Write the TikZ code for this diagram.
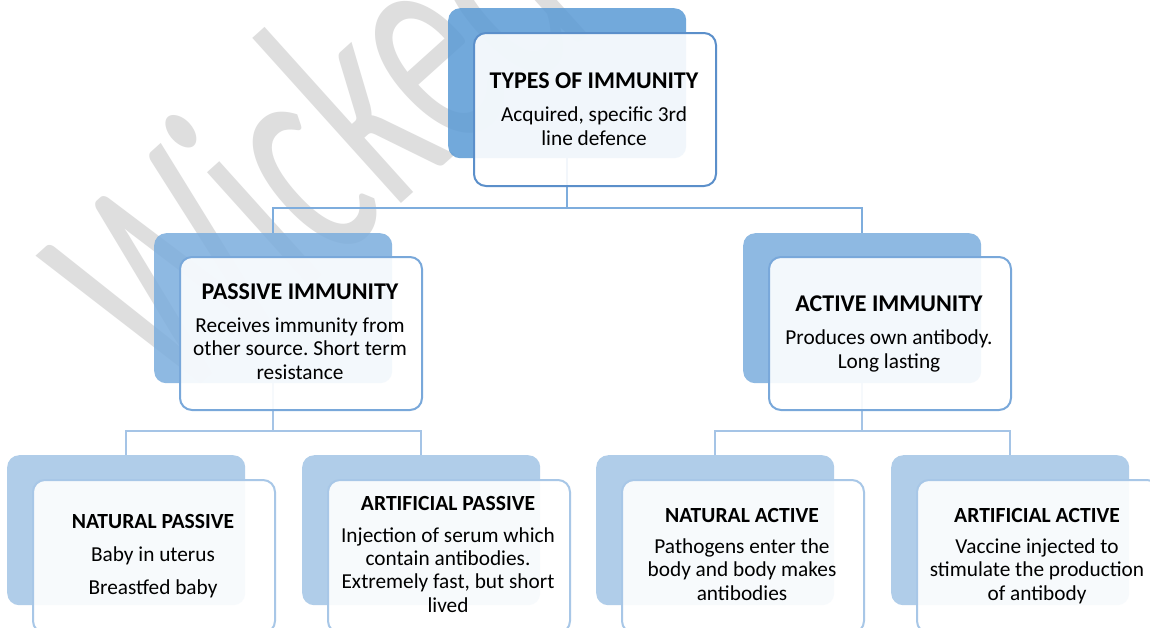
\documentclass[tikz,border=0pt]{standalone}
\usepackage{fontspec}
\setmainfont{Carlito}
\frenchspacing
\definecolor{backA}{HTML}{5A9AD5}
\definecolor{backB}{HTML}{7BADDD}
\definecolor{backC}{HTML}{A3C5E6}
\definecolor{edgeA}{HTML}{5B8FCA}
\definecolor{edgeB}{HTML}{79A8DA}
\definecolor{edgeC}{HTML}{A8C7E7}
\definecolor{connA}{HTML}{7EADDD}
\definecolor{connB}{HTML}{A5C4E6}
\definecolor{wmgray}{HTML}{DEDEDE}
\begin{document}
\begin{tikzpicture}[x=1pt,y=-1pt,
  backbox/.style={rectangle, rounded corners=12pt, minimum width=238pt, minimum height=150pt, anchor=north west, inner sep=0pt, fill opacity=0.85},
  frontbox/.style={rectangle, rounded corners=12pt, minimum width=242pt, minimum height=153pt, anchor=north west, inner sep=0pt, fill=white, fill opacity=0.9, line width=2pt},
  ttl/.style={anchor=base, inner sep=0pt, font=\bfseries\fontsize{24}{26}\selectfont},
  ttls/.style={anchor=base, inner sep=0pt, font=\bfseries\fontsize{21.6}{24}\selectfont},
  body/.style={anchor=base, inner sep=0pt, align=center, font=\fontsize{21.3}{23.3}\selectfont},
  wmark/.style={rotate=42, anchor=base west, inner sep=0pt, text=wmgray, font=\fontsize{320}{320}\selectfont},
  connlineA/.style={draw=connA, line width=2pt},
  connlineB/.style={draw=connB, line width=2pt}
]
\useasboundingbox (0,0) rectangle (1150,627);
\clip (0,0) rectangle (1150,627);
\fill[white] (0,0) rectangle (1150,627);

% watermark
\node[wmark] (wm) at (172,410) {\scalebox{0.6}[1]{Wicked}};

% back boxes
\node[backbox, fill=backA] (b1) at (448,8) {};
\node[backbox, fill=backB] (b2) at (154,233) {};
\node[backbox, fill=backB] (b3) at (743,233) {};
\node[backbox, fill=backC] (b4) at (7,455) {};
\node[backbox, fill=backC] (b5) at (302,455) {};
\node[backbox, fill=backC] (b6) at (596,455) {};
\node[backbox, fill=backC] (b7) at (891,455) {};

% connectors
\draw[connlineA] (b1.south) -- ++(0,50) coordinate (j1) -| (b2.north);
\draw[connlineA] (j1) -| (b3.north);
\draw[connlineB] (b2.south) -- ++(0,48) coordinate (j2) -| (b4.north);
\draw[connlineB] (j2) -| (b5.north);
\draw[connlineB] (b3.south) -- ++(0,48) coordinate (j3) -| (b6.north);
\draw[connlineB] (j3) -| (b7.north);

% front boxes
\node[frontbox, draw=edgeA] (f1) at (473,32) {};
\node[frontbox, draw=edgeB] (f2) at (179,256) {};
\node[frontbox, draw=edgeB] (f3) at (768,256) {};
\node[frontbox, draw=edgeC] (f4) at (32,479) {};
\node[frontbox, draw=edgeC] (f5) at (327,479) {};
\node[frontbox, draw=edgeC] (f6) at (621,479) {};
\node[frontbox, draw=edgeC] (f7) at (916,479) {};

% texts (body nodes anchored at the baseline of their last line)
\node[ttl] (t1) at (594,88) {TYPES OF IMMUNITY};
\node[body] (d1) at (594,145) {Acquired, specific 3rd\\line defence};

\node[ttl] (t2) at (300,299) {PASSIVE IMMUNITY};
\node[body] (d2) at (300,379) {Receives immunity from\\other source. Short term\\resistance};

\node[ttl] (t3) at (889,311) {ACTIVE IMMUNITY};
\node[body] (d3) at (889,368) {Produces own antibody.\\Long lasting};

\node[ttls] (t4) at (153,528) {NATURAL PASSIVE};
\node[body] (d4) at (153,594) {Baby in uterus\\[9pt]Breastfed baby};

\node[ttls] (t5) at (448,510) {ARTIFICIAL PASSIVE};
\node[body] (d5) at (448,612) {Injection of serum which\\contain antibodies.\\Extremely fast, but short\\lived};

\node[ttls] (t6) at (742,522) {NATURAL ACTIVE};
\node[body] (d6) at (742,600) {Pathogens enter the\\body and body makes\\antibodies};

\node[ttls] (t7) at (1037,522) {ARTIFICIAL ACTIVE};
\node[body] (d7) at (1037,600) {Vaccine injected to\\stimulate the production\\of antibody};
\end{tikzpicture}
\end{document}
